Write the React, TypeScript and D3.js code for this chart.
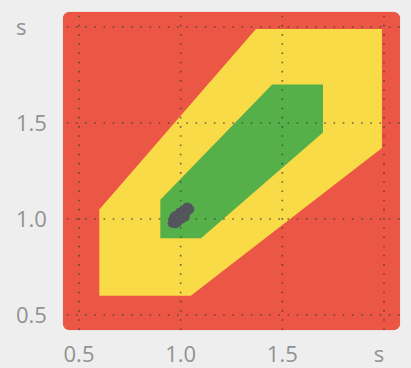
import React from "react";
import * as d3 from "d3";

const W = 411;
const H = 368;

// Axis ticks (the last tick of each axis is labelled with the unit)
const tickValues = [0.5, 1.0, 1.5, 2.0];
const tickLabels = ["0.5", "1.0", "1.5", "s"];

// Tolerance zones, outer to inner
const yellowZone: [number, number][] = [
  [0.6, 0.6], [1.05, 0.6], [1.99, 1.37], [1.99, 1.99], [1.37, 1.99], [0.6, 1.05],
];
const greenZone: [number, number][] = [
  [0.9, 0.9], [1.1, 0.9], [1.7, 1.45], [1.7, 1.7], [1.45, 1.7], [0.9, 1.1],
];

// Measured samples
const sampleX = [0.958, 0.962, 0.968, 0.972, 0.975, 0.98, 0.984, 0.99, 0.993, 0.998, 1.0, 1.004, 1.008, 1.012, 1.016, 1.02, 1.024, 1.028, 1.032, 1.036, 1.04, 1.045, 1.03, 1.015, 0.995, 0.975, 0.985, 1.005, 1.022, 0.965];
const sampleY = [0.978, 0.995, 0.985, 1.003, 0.975, 0.995, 1.012, 0.99, 1.02, 1.005, 1.028, 1.012, 1.03, 1.018, 1.042, 1.025, 1.048, 1.035, 1.055, 1.042, 1.058, 1.05, 1.062, 1.05, 1.035, 1.018, 0.982, 1.0, 1.01, 1.01];

const domain: [number, number] = [0.42, 2.08];

export default function App() {
  const x = d3.scaleLinear().domain([0.5, 2.0]).range([79, 384]);
  const y = d3.scaleLinear().domain([0.5, 2.0]).range([315, 27]);
  const line = d3.line<[number, number]>().x((d) => x(d[0])).y((d) => y(d[1]));
  const poly = (pts: [number, number][]) => line(pts) + "Z";

  const x0 = x(domain[0]);
  const x1 = x(domain[1]);
  const y0 = y(domain[1]);
  const y1 = y(domain[0]);

  const labelStyle = {
    fontFamily: "'Open Sans', 'Noto Sans', sans-serif",
    fontSize: 22,
    fill: "#929292",
  } as const;

  return (
    <div style={{ position: "fixed", left: 0, top: 0, width: W, height: H }}>
      <svg width={W} height={H} style={{ display: "block" }}>
        <rect width={W} height={H} fill="#eeeeee" />
        <defs>
          <clipPath id="plot-clip">
            <rect x={x0} y={y0} width={x1 - x0} height={y1 - y0} rx={7} />
          </clipPath>
        </defs>
        <g clipPath="url(#plot-clip)">
          <rect x={x0} y={y0} width={x1 - x0} height={y1 - y0} fill="#ec5644" />
          <path d={poly(yellowZone)} fill="#f9da47" />
          <path d={poly(greenZone)} fill="#56b04a" />
          {tickValues.map((v, i) => (
            <g key={"g" + i}>
              <line
                x1={x(v)} x2={x(v)} y1={y0} y2={y1}
                stroke="#3e3e3e" strokeOpacity={0.75} strokeWidth={1.6}
                strokeDasharray="1.6 7.6" strokeDashoffset={-4}
              />
              <line
                x1={x0} x2={x1} y1={y(v)} y2={y(v)}
                stroke="#3e3e3e" strokeOpacity={0.75} strokeWidth={1.6}
                strokeDasharray="1.6 7.6" strokeDashoffset={-4}
              />
            </g>
          ))}
          {sampleX.map((sx, i) => (
            <circle key={"p" + i} cx={x(sx)} cy={y(sampleY[i])} r={4.5} fill="#55555d" />
          ))}
        </g>
        {tickValues.map((v, i) => (
          <text
            key={"xl" + i}
            x={x(v) + (i === tickValues.length - 1 ? -5 : 0)}
            y={362}
            textAnchor="middle"
            style={labelStyle}
          >
            {tickLabels[i]}
          </text>
        ))}
        {tickValues.map((v, i) => (
          <text key={"yl" + i} x={16} y={y(v) + 8.3} textAnchor="start" style={labelStyle}>
            {tickLabels[i]}
          </text>
        ))}
      </svg>
    </div>
  );
}
